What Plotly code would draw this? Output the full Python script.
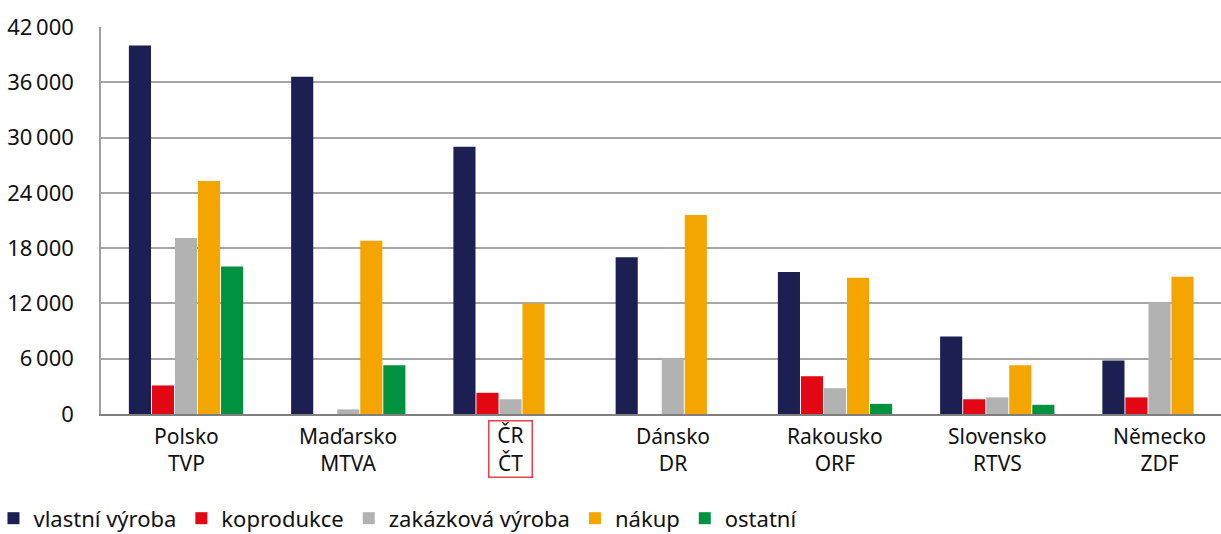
import plotly.graph_objects as go

categories = ["Polsko<br>TVP", "Maďarsko<br>MTVA", "ČR<br>ČT", "Dánsko<br>DR",
              "Rakousko<br>ORF", "Slovensko<br>RTVS", "Německo<br>ZDF"]
series_names = ["vlastní výroba", "koprodukce", "zakázková výroba", "nákup", "ostatní"]
vlastni = [40000, 36600, 29000, 17000, 15400, 8400, 5800]
koprodukce = [3100, None, 2300, None, 4100, 1600, 1800]
zakazkova = [19100, 500, 1600, 6000, 2800, 1800, 12100]
nakup = [25300, 18800, 12000, 21600, 14800, 5300, 14900]
ostatni = [16000, 5300, None, None, 1100, 1000, None]
tick_vals = [0, 6000, 12000, 18000, 24000, 30000, 36000, 42000]
tick_text = ["0", "6\u2009000", "12\u2009000", "18\u2009000", "24\u2009000",
             "30\u2009000", "36\u2009000", "42\u2009000"]
highlight = "ČR<br>ČT"

colors = ["#1c1f52", "#e30613", "#b2b2b2", "#f5a500", "#00923f"]
FONT = "Noto Sans"
FS = 21
TXT = "#111111"

fig = go.Figure()
for name, vals, col in zip(series_names, [vlastni, koprodukce, zakazkova, nakup, ostatni], colors):
    fig.add_trace(go.Bar(x=categories, y=vals, name=name, marker_color=col,
                         marker_line_width=0))

for c in categories:
    is_hl = c == highlight
    fig.add_annotation(x=c, xref="x", y=0, yref="paper", yanchor="middle",
                       yshift=-35, text=c, showarrow=False, align="center",
                       font=dict(family=FONT, size=FS, color=TXT),
                       width=42 if is_hl else None, height=55 if is_hl else None,
                       borderpad=0, borderwidth=1.5 if is_hl else 0,
                       bordercolor="#e8404a" if is_hl else "rgba(0,0,0,0)")

fig.update_layout(
    width=1221, height=534,
    margin=dict(l=101, r=0, t=27, b=120, autoexpand=False),
    paper_bgcolor="white", plot_bgcolor="white",
    barmode="group", bargap=0.29, bargroupgap=0.04,
    font=dict(family=FONT, size=FS, color=TXT),
    showlegend=True,
    legend=dict(orientation="h", x=-0.096, xanchor="left", y=-0.324, yanchor="bottom",
                font=dict(family=FONT, size=22, color=TXT),
                itemwidth=30, tracegroupgap=0),
)
fig.update_xaxes(range=[-0.524, 6.379], showticklabels=False, showgrid=False,
                 showline=True, linecolor="#7f7f7f", linewidth=2, ticks="")
fig.update_yaxes(range=[0, 42000], tickvals=tick_vals, ticktext=tick_text,
                 showgrid=True, gridcolor="#a6a6a6", gridwidth=1.5,
                 showline=True, linecolor="#a0a0a0", linewidth=1.5,
                 zeroline=False, ticks="", ticklabelstandoff=21,
                 tickfont=dict(family=FONT, size=22, color=TXT))

fig.write_html("out.html", config={"displayModeBar": False},
               post_script="document.body.style.margin='0';document.body.style.overflow='hidden';")
